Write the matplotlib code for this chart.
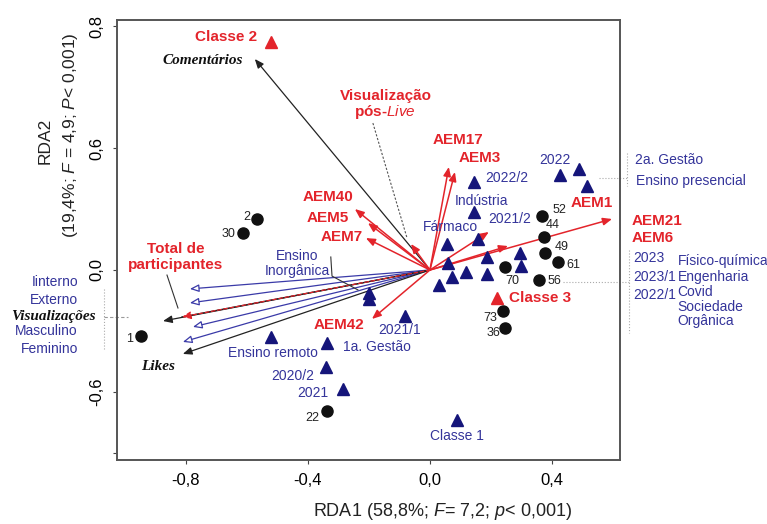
import matplotlib
matplotlib.use("Agg")
import matplotlib.pyplot as plt

plt.rcParams['font.family'] = ['Liberation Sans', 'DejaVu Sans']
plt.rcParams['mathtext.fontset'] = 'custom'
plt.rcParams['mathtext.rm'] = 'Liberation Sans'
plt.rcParams['mathtext.it'] = 'Liberation Sans:italic'

RED = '#e3242b'
NAVY = '#15157a'
BLUE_TXT = '#34349a'
BLACK = '#111111'

# ---- sites (black circles) ----
site_ids = ['1', '2', '30', '22', '52', '44', '49', '61', '56', '70', '73', '36']
site_x = [-0.948, -0.567, -0.613, -0.338, 0.367, 0.374, 0.377, 0.420, 0.357, 0.246, 0.239, 0.246]
site_y = [-0.325, 0.251, 0.182, -0.694, 0.266, 0.162, 0.084, 0.039, -0.049, 0.015, -0.202, -0.285]
site_lab_x = [-0.974, -0.590, -0.636, -0.384, 0.403, 0.403, 0.433, 0.469, 0.384, 0.269, 0.197, 0.210]
site_lab_y = [-0.339, 0.261, 0.177, -0.728, 0.295, 0.221, 0.113, 0.025, -0.054, -0.054, -0.236, -0.310]
site_lab_ha = ['right', 'right', 'right', 'center', 'left', 'center', 'center', 'center', 'left',
               'center', 'center', 'center']

# ---- blue triangles (factor centroids) ----
tri_x = [0.426, 0.489, 0.515, 0.144, 0.144, 0.157, 0.056, 0.059, 0.118, 0.072, 0.030, 0.187,
         0.187, 0.295, 0.298, -0.200, -0.200, -0.082, -0.521, -0.338, -0.341, -0.285, 0.089]
tri_y = [0.467, 0.497, 0.413, 0.433, 0.285, 0.152, 0.128, 0.034, -0.010, -0.034, -0.074, -0.020,
         0.064, 0.084, 0.020, -0.113, -0.143, -0.226, -0.330, -0.359, -0.477, -0.585, -0.738]

blue_labels = ['2022', '2022/2', 'Indústria', '2021/2', 'Fármaco', 'Ensino\nInorgânica', '2021/1',
               'Ensino remoto', '1a. Gestão', '2020/2', '2021', 'Classe 1']
blue_lab_x = [0.410, 0.252, 0.170, 0.262, 0.066, -0.436, -0.098, -0.515, -0.174, -0.449, -0.384, 0.089]
blue_lab_y = [0.541, 0.453, 0.339, 0.251, 0.212, 0.034, -0.295, -0.408, -0.379, -0.521, -0.605, -0.817]

# ---- red triangles (classes) ----
class_x = [-0.521, 0.220]
class_y = [1.121, -0.138]
class_labels = ['Classe 2', 'Classe 3']
class_lab_x = [-0.567, 0.259]
class_lab_y = [1.146, -0.138]
class_lab_ha = ['right', 'left']

# ---- arrows ----
black_arrows = ['Comentários', 'Visualizações', 'Likes']
black_ax = [-0.574, -0.875, -0.810]
black_ay = [1.038, -0.251, -0.413]

blue_arrows = ['Iinterno', 'Externo', 'Masculino', 'Feminino']
blue_ax = [-0.787, -0.787, -0.777, -0.810]
blue_ay = [-0.093, -0.162, -0.280, -0.354]

red_arrows = ['AEM17', 'AEM3', 'AEM40', 'AEM5', 'AEM7', 'Visualização pós-Live', 'AEM1',
              'AEM21', 'AEM6', 'AEM42']
red_ax = [0.062, 0.082, -0.246, -0.203, -0.210, -0.062, 0.597, 0.256, 0.193, -0.190]
red_ay = [0.507, 0.482, 0.300, 0.231, 0.157, 0.128, 0.251, 0.118, 0.187, -0.241]

total_ax, total_ay = -0.813, -0.231

red_labels = ['AEM17', 'AEM3', 'AEM40', 'AEM5', 'AEM7', 'AEM1', 'AEM42']
red_lab_x = [0.092, 0.164, -0.334, -0.334, -0.289, 0.531, -0.298]
red_lab_y = [0.639, 0.551, 0.359, 0.256, 0.162, 0.330, -0.271]

x_ticks = [-0.8, -0.4, 0.0, 0.4]
x_tick_labels = ['-0,8', '-0,4', '0,0', '0,4']
y_ticks = [1.2, 0.6, 0.0, -0.6, -0.9]
y_tick_labels = ['0,8', '0,6', '0,0', '-0,6', '']

fig = plt.figure(figsize=(7.67, 5.24), dpi=100)
ax = fig.add_axes([0.1525, 0.1221, 0.6558, 0.8397])
ax.set_xlim(-1.026, 0.623)
ax.set_ylim(-0.935, 1.23)

def arrow(x, y, color, fc, ls='-', lw=0.9, ms=9):
    ax.annotate('', xy=(x, y), xytext=(0, 0),
                arrowprops=dict(arrowstyle='-|>,head_length=0.6,head_width=0.25', color=color,
                                fc=fc, ec=color, lw=lw, ls=ls, shrinkA=0, shrinkB=0,
                                mutation_scale=ms), zorder=3)

for x, y in zip(blue_ax, blue_ay):
    arrow(x, y, '#3a3aa8', 'white')
for x, y in zip(black_ax, black_ay):
    arrow(x, y, '#222222', '#222222')
ax.plot([0, total_ax], [0, total_ay], color='#222222', lw=0.9, zorder=3)
arrow(total_ax, total_ay, RED, RED, ls=(0, (3, 2)))
for x, y in zip(red_ax, red_ay):
    arrow(x, y, RED, RED, lw=1.1)

ax.plot(site_x, site_y, 'o', color=BLACK, ms=8, zorder=4)
ax.plot(tri_x, tri_y, '^', color=NAVY, ms=9, zorder=4)
ax.plot(class_x, class_y, '^', color=RED, ms=9, zorder=4)

for t, x, y, ha in zip(site_ids, site_lab_x, site_lab_y, site_lab_ha):
    ax.text(x, y, t, ha=ha, va='center', fontsize=9, color='#222222', zorder=5)
for t, x, y in zip(blue_labels, blue_lab_x, blue_lab_y):
    ax.text(x, y, t, ha='center', va='center', fontsize=10, color=BLUE_TXT, zorder=5,
            linespacing=1.1)
for t, x, y, ha in zip(class_labels, class_lab_x, class_lab_y, class_lab_ha):
    ax.text(x, y, t, ha=ha, va='center', fontsize=11, color=RED, fontweight='bold', zorder=5)
for t, x, y in zip(red_labels, red_lab_x, red_lab_y):
    ax.text(x, y, t, ha='center', va='center', fontsize=11, color=RED, fontweight='bold', zorder=5)

ax.text(-0.144, 0.856, 'Visualização', ha='center', va='center', fontsize=11, color=RED,
        fontweight='bold')
ax.text(-0.148, 0.777, r'pós-$\mathbf{\it{Live}}$', ha='center', va='center', fontsize=11,
        color=RED, fontweight='bold')
ax.text(-0.833, 0.103, 'Total de', ha='center', va='center', fontsize=11, color=RED,
        fontweight='bold')
ax.text(-0.833, 0.025, 'participantes', ha='center', va='center', fontsize=11, color=RED,
        fontweight='bold')

serif = dict(family=['Liberation Serif', 'DejaVu Serif'], style='italic', fontweight='bold',
             fontsize=11, color=BLACK)
ax.text(-0.744, 1.033, 'Comentários', ha='center', va='center', **serif)
ax.text(-0.892, -0.477, 'Likes', ha='center', va='center', **serif)
ax.text(-1.236, -0.231, 'Visualizações', ha='center', va='center', clip_on=False, **serif)

# leader lines
ax.plot([-0.325, -0.321, -0.236], [0.064, -0.030, -0.098], color='#333333', lw=0.8, zorder=3)
ax.plot([-0.862, -0.826], [-0.025, -0.187], color='#333333', lw=0.8, zorder=3)
ax.plot([-0.187, -0.075], [0.723, 0.157], color='#555555', lw=0.8, ls=(0, (2, 1.5)), zorder=3)

# outside labels left
for t, y in zip(blue_arrows, [-0.059, -0.148, -0.300, -0.389]):
    ax.text(-1.154, y, t, ha='right', va='center', fontsize=10, color=BLUE_TXT, clip_on=False)
ax.plot([-1.069, -1.069], [-0.093, -0.394], color='#aaaaaa', lw=0.8, ls=':', clip_on=False)
ax.plot([-1.069, -0.990], [-0.231, -0.231], color='#999999', lw=0.8, ls=(0, (3, 2)),
        clip_on=False)

# outside labels right
ax.text(0.662, 0.241, 'AEM21', ha='left', va='center', fontsize=11, color=RED,
        fontweight='bold', clip_on=False)
ax.text(0.662, 0.157, 'AEM6', ha='left', va='center', fontsize=11, color=RED,
        fontweight='bold', clip_on=False)
ax.text(0.672, 0.541, '2a. Gestão', ha='left', va='center', fontsize=10, color=BLUE_TXT,
        clip_on=False)
ax.text(0.675, 0.438, 'Ensino presencial', ha='left', va='center', fontsize=10, color=BLUE_TXT,
        clip_on=False)
ax.plot([0.646, 0.646], [0.575, 0.413], color='#aaaaaa', lw=0.8, ls=':', clip_on=False)
ax.plot([0.554, 0.646], [0.453, 0.453], color='#aaaaaa', lw=0.8, ls=':', clip_on=False)

for t, y in zip(['2023', '2023/1', '2022/1'], [0.059, -0.034, -0.123]):
    ax.text(0.666, y, t, ha='left', va='center', fontsize=10, color=BLUE_TXT, clip_on=False)
for t, y in zip(['Físico-química', 'Engenharia', 'Covid', 'Sociedade', 'Orgânica'],
                [0.044, -0.034, -0.108, -0.182, -0.251]):
    ax.text(0.812, y, t, ha='left', va='center', fontsize=10, color=BLUE_TXT, clip_on=False)
ax.plot([0.652, 0.652], [0.098, -0.310], color='#aaaaaa', lw=0.8, ls=':', clip_on=False)
ax.plot([0.436, 0.652], [-0.059, -0.059], color='#aaaaaa', lw=0.8, ls=':', clip_on=False)

ax.set_xticks(x_ticks)
ax.set_xticklabels(x_tick_labels, fontsize=12)
ax.set_yticks(y_ticks)
ax.set_yticklabels(y_tick_labels, fontsize=12, rotation=90, va='center')
ax.tick_params(direction='out', length=3, width=0.8, color='#444444', pad=6)
for s in ax.spines.values():
    s.set_color('#555555')
    s.set_linewidth(1.4)

fig.text(443 / 767, 1 - 512 / 524, r'RDA1 (58,8%; $\it{F}$= 7,2; $\it{p}$< 0,001)',
         ha='center', va='center', fontsize=13, color='#222222')
fig.text(45 / 767, 1 - 141 / 524, 'RDA2', ha='center', va='center', rotation=90, fontsize=12.5,
         color='#222222')
fig.text(70 / 767, 1 - 135 / 524, r'(19,4%; $\it{F}$ = 4,9; $\it{P}$< 0,001)', ha='center',
         va='center', rotation=90, fontsize=12.5, color='#222222')

fig.savefig('out.png', dpi=100)
